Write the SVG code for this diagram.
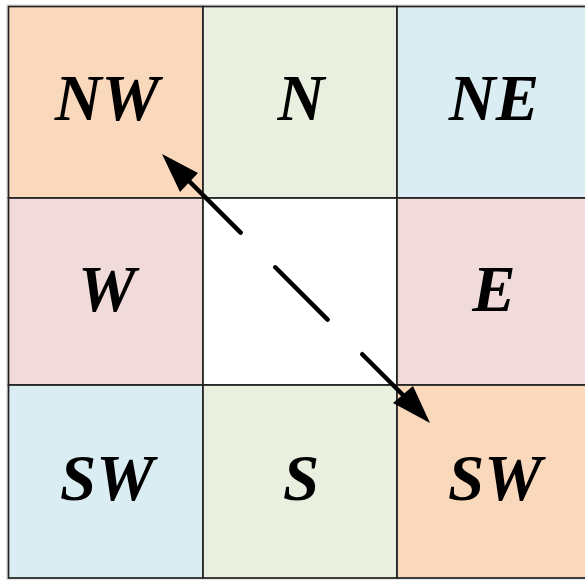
<svg xmlns="http://www.w3.org/2000/svg" width="585" height="582" viewBox="0 0 585 582">
<style>
.cell{stroke:#222;stroke-width:1.7}
.orange{fill:#FAD8BC}
.green{fill:#EAF0DF}
.blue{fill:#DAEDF2}
.pink{fill:#F0DBDA}
.white{fill:#FFFFFF}
.lbl{font-family:"Liberation Serif","Times New Roman",serif;font-weight:bold;font-style:italic;font-size:65px;fill:#000;text-anchor:middle}
.conn{stroke:#000;stroke-width:4.5;stroke-linecap:round;fill:none}
.head{fill:#000}
</style>
<rect x="0" y="0" width="585" height="582" fill="#fff"/>
<rect x="6" y="4" width="585" height="576" fill="#cfcfcf" opacity="0.5"/>
<g id="NW"><rect class="cell orange" x="8.5" y="6.5" width="194.5" height="191.5"/><text class="lbl" x="107" y="120">NW</text></g>
<g id="N"><rect class="cell green" x="203" y="6.5" width="194" height="191.5"/><text class="lbl" x="301" y="120">N</text></g>
<g id="NE"><rect class="cell blue" x="397" y="6.5" width="194" height="191.5"/><text class="lbl" x="494" y="120">NE</text></g>
<g id="W"><rect class="cell pink" x="8.5" y="198" width="194.5" height="187"/><text class="lbl" x="107" y="311">W</text></g>
<g id="C"><rect class="cell white" x="203" y="198" width="194" height="187"/></g>
<g id="E"><rect class="cell pink" x="397" y="198" width="194" height="187"/><text class="lbl" x="494" y="311">E</text></g>
<g id="SW"><rect class="cell blue" x="8.5" y="385" width="194.5" height="193"/><text class="lbl" x="107" y="500">SW</text></g>
<g id="S"><rect class="cell green" x="203" y="385" width="194" height="193"/><text class="lbl" x="301" y="500">S</text></g>
<g id="SE"><rect class="cell orange" x="397" y="385" width="194" height="193"/><text class="lbl" x="495" y="500">SW</text></g>
<g id="connectors">
<line x1="189" y1="181" x2="403" y2="395" class="conn" stroke-dasharray="73 49 74 49 200"/>
<polygon class="head" points="162,154 180,192 198,173"/>
<polygon class="head" points="430,423 393,403 413,386"/>
</g>
</svg>
